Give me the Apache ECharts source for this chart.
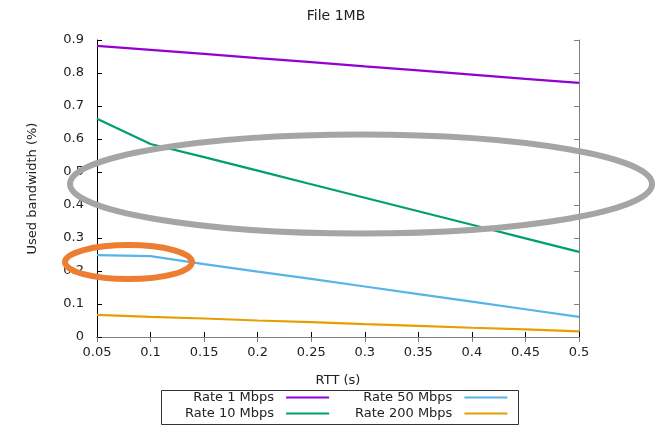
<!DOCTYPE html>
<html><head><meta charset="utf-8">
<script src="https://cdn.jsdelivr.net/npm/echarts@6/dist/echarts.min.js"></script>
<style>html,body{margin:0;padding:0;background:#fff}#c{width:667px;height:425px}</style>
</head><body><div id="c"></div>
<script>
// ---- data ----
const rtt = [0.05, 0.1, 0.15, 0.2, 0.25, 0.3, 0.35, 0.4, 0.45, 0.5];
const rate1 = [0.882, 0.870, 0.858, 0.845, 0.833, 0.820, 0.808, 0.795, 0.782, 0.770];
const rate10 = [0.661, 0.585, 0.545, 0.504, 0.463, 0.422, 0.381, 0.340, 0.299, 0.258];
const rate50 = [0.248, 0.245, 0.221, 0.198, 0.176, 0.153, 0.130, 0.107, 0.084, 0.061];
const rate200 = [0.067, 0.061, 0.056, 0.050, 0.045, 0.039, 0.034, 0.028, 0.023, 0.017];
const seriesNames = ['Rate 1 Mbps', 'Rate 10 Mbps', 'Rate 50 Mbps', 'Rate 200 Mbps'];
const xTickLabels = ['0.05', '0.1', '0.15', '0.2', '0.25', '0.3', '0.35', '0.4', '0.45', '0.5'];
const yTickLabels = ['0', '0.1', '0.2', '0.3', '0.4', '0.5', '0.6', '0.7', '0.8', '0.9'];
// highlight ellipses (data coordinates)
const ellipseCenterX = [0.2965, 0.0794];
const ellipseCenterY = [0.4636, 0.227];
const ellipseRadiusX = [0.2717, 0.0593];
const ellipseRadiusY = [0.150, 0.0515];

// ---- chart ----
const FONT = 'DejaVu Sans';
const TXT = '#222';
const colors = ['#9400d3', '#009e73', '#56b4e9', '#e69f00'];
const ellipseColors = ['#a5a5a5', '#ed7d31'];
const allValues = [rate1, rate10, rate50, rate200];

const chart = echarts.init(document.getElementById('c'), null, {renderer: 'canvas'});

const xLab = v => { const i = rtt.findIndex(r => Math.abs(r - v) < 1e-6); return i >= 0 ? xTickLabels[i] : ''; };
const yLab = v => { const i = Math.round(v * 10); return Math.abs(v * 10 - i) < 1e-6 && yTickLabels[i] !== undefined ? yTickLabels[i] : ''; };

const baseX = {type: 'value', min: 0.05, max: 0.5, interval: 0.05, splitLine: {show: false}};
const baseY = {type: 'value', min: 0, max: 0.9, interval: 0.1, splitLine: {show: false}};

const legendCommon = {
  orient: 'vertical', align: 'right', top: 391, padding: 0, itemGap: 3,
  itemWidth: 43, itemHeight: 14, selectedMode: false,
  itemStyle: {opacity: 0},
  lineStyle: {width: 2},
  textStyle: {fontFamily: FONT, fontSize: 13, color: TXT, padding: [0, 7, 0, 0]}
};

const option = {
  animation: false,
  backgroundColor: '#fff',
  color: colors,
  title: {
    text: 'File 1MB', left: 331, top: 4, textAlign: 'center',
    textStyle: {fontFamily: FONT, fontSize: 14, fontWeight: 'normal', color: TXT}
  },
  grid: {left: 97, right: 88, top: 40, bottom: 88, containLabel: false},
  legend: [
    Object.assign({}, legendCommon, {left: 185, data: [seriesNames[0], seriesNames[1]]}),
    Object.assign({}, legendCommon, {left: 355, data: [seriesNames[2], seriesNames[3]]})
  ],
  graphic: [{
    type: 'rect', left: 159, top: 388, shape: {width: 357, height: 34},
    style: {fill: 'none', stroke: '#333', lineWidth: 1}, silent: true
  }],
  xAxis: [
    Object.assign({}, baseX, {
      position: 'bottom', name: 'RTT (s)', nameLocation: 'middle', nameGap: 37,
      nameTextStyle: {fontFamily: FONT, fontSize: 13, color: TXT},
      axisLine: {lineStyle: {color: '#000', width: 1}},
      axisTick: {inside: true, length: 5, lineStyle: {color: '#000'}},
      axisLabel: {formatter: xLab, fontFamily: FONT, fontSize: 13, color: TXT, margin: 9, showMinLabel: true, showMaxLabel: true}
    }),
    Object.assign({}, baseX, {
      position: 'top',
      axisLine: {lineStyle: {color: '#808080', width: 1}},
      axisTick: {inside: true, length: 5, lineStyle: {color: '#808080'}},
      axisLabel: {show: false}
    })
  ],
  yAxis: [
    Object.assign({}, baseY, {
      position: 'left', name: 'Used bandwidth (%)', nameLocation: 'middle', nameGap: 58,
      nameTextStyle: {fontFamily: FONT, fontSize: 13, color: TXT},
      axisLine: {show: true, lineStyle: {color: '#000', width: 1}},
      axisTick: {show: true, inside: true, length: 5, lineStyle: {color: '#000'}},
      axisLabel: {formatter: yLab, fontFamily: FONT, fontSize: 13, color: TXT, margin: 13}
    }),
    Object.assign({}, baseY, {
      position: 'right',
      axisLine: {show: true, lineStyle: {color: '#808080', width: 1}},
      axisTick: {show: true, inside: true, length: 5, lineStyle: {color: '#808080'}},
      axisLabel: {show: false}
    })
  ],
  series: seriesNames.map((name, k) => ({
    name, type: 'line', xAxisIndex: 0, yAxisIndex: 0,
    symbol: 'none', showSymbol: false,
    lineStyle: {width: 2.2, color: colors[k]},
    itemStyle: {color: colors[k]},
    data: rtt.map((x, i) => [x, allValues[k][i]]),
    z: 3
  })).concat([{
    name: 'highlight', type: 'custom', coordinateSystem: 'cartesian2d',
    xAxisIndex: 0, yAxisIndex: 0, clip: false, silent: true, z: 10,
    data: ellipseCenterX.map((x, i) => [x, ellipseCenterY[i], ellipseRadiusX[i], ellipseRadiusY[i], i]),
    renderItem: (params, api) => {
      const c = api.coord([api.value(0), api.value(1)]);
      const s = api.size([api.value(2), api.value(3)], [api.value(0), api.value(1)]);
      const idx = api.value(4);
      return {
        type: 'ellipse',
        shape: {cx: c[0], cy: c[1], rx: s[0], ry: s[1]},
        style: {fill: 'none', stroke: ellipseColors[idx], lineWidth: 6}
      };
    }
  }])
};
chart.setOption(option);
</script>
</body></html>
